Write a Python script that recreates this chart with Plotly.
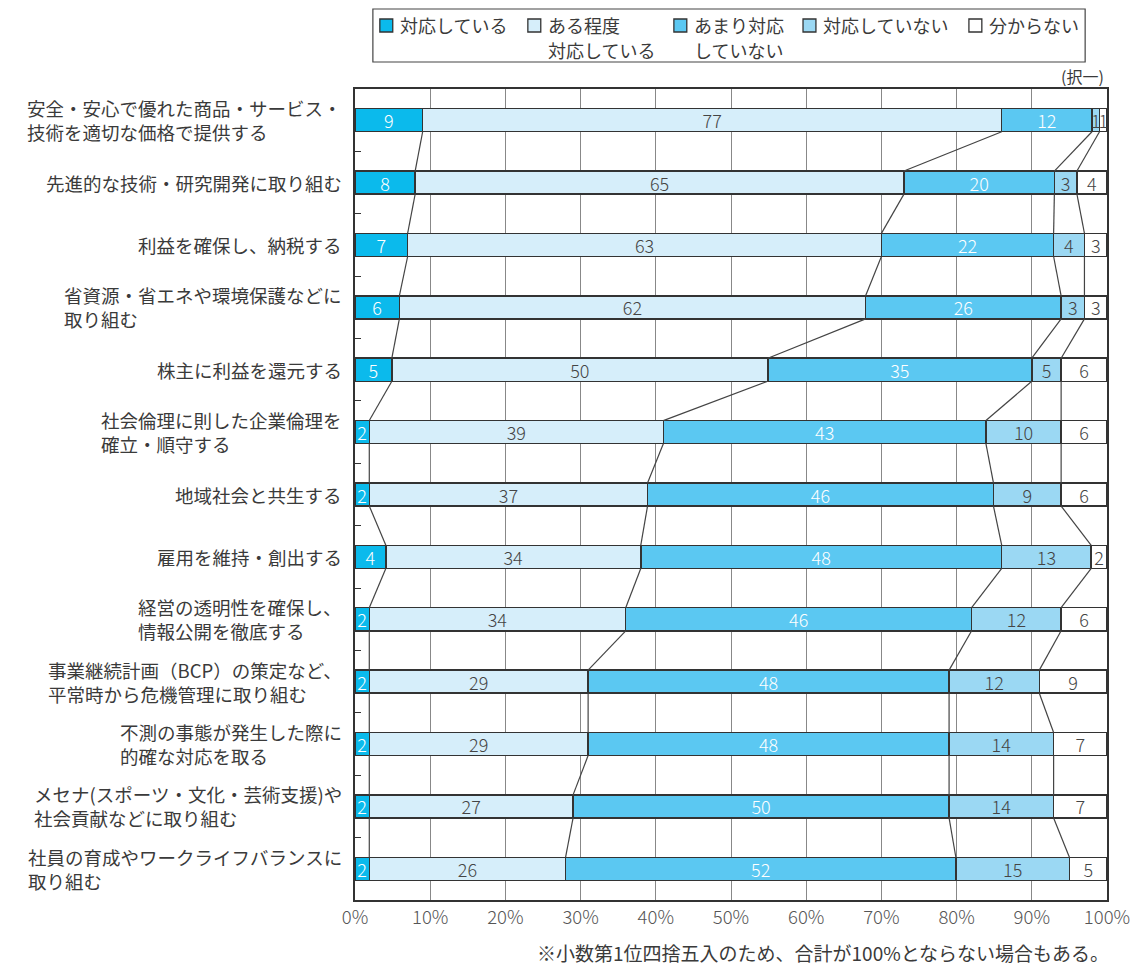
import plotly.graph_objects as go

categories = [
    "安全・安心で優れた商品・サービス・<br>技術を適切な価格で提供する",
    "先進的な技術・研究開発に取り組む",
    "利益を確保し、納税する",
    "省資源・省エネや環境保護などに<br>取り組む",
    "株主に利益を還元する",
    "社会倫理に則した企業倫理を<br>確立・順守する",
    "地域社会と共生する",
    "雇用を維持・創出する",
    "経営の透明性を確保し、<br>情報公開を徹底する",
    "事業継続計画（BCP）の策定など、<br>平常時から危機管理に取り組む",
    "不測の事態が発生した際に<br>的確な対応を取る",
    "メセナ(スポーツ・文化・芸術支援)や<br>社会貢献などに取り組む",
    "社員の育成やワークライフバランスに<br>取り組む",
]

series_names = ["対応している", "ある程度<br>対応している", "あまり対応<br>していない", "対応していない", "分からない"]

# bar lengths (percent)
v_taiou = [9, 8, 7, 5.9, 4.9, 1.9, 1.9, 4.1, 1.9, 1.9, 1.9, 1.9, 1.9]
v_aruteido = [77, 65, 63, 62, 50, 39.1, 37, 33.9, 34.1, 29.1, 29.1, 27.1, 26.1]
v_amari = [12, 20, 22.9, 26, 35.1, 42.9, 46, 48, 46, 48, 48, 50, 51.9]
v_shiteinai = [1, 3, 4.1, 3.1, 3.9, 10, 9, 11.9, 11.9, 12, 13.9, 13.9, 15.1]
v_wakaranai = [1, 4, 3, 3, 6.1, 6.1, 6.1, 2.1, 6.1, 9, 7.1, 7.1, 5]

# printed labels
l_taiou = [9, 8, 7, 6, 5, 2, 2, 4, 2, 2, 2, 2, 2]
l_aruteido = [77, 65, 63, 62, 50, 39, 37, 34, 34, 29, 29, 27, 26]
l_amari = [12, 20, 22, 26, 35, 43, 46, 48, 46, 48, 48, 50, 52]
l_shiteinai = [1, 3, 4, 3, 5, 10, 9, 13, 12, 12, 14, 14, 15]
l_wakaranai = [1, 4, 3, 3, 6, 6, 6, 2, 6, 9, 7, 7, 5]

x_ticks = [0, 10, 20, 30, 40, 50, 60, 70, 80, 90, 100]
x_ticktext = ["0%", "10%", "20%", "30%", "40%", "50%", "60%", "70%", "80%", "90%", "100%"]

values = [v_taiou, v_aruteido, v_amari, v_shiteinai, v_wakaranai]
labels = [l_taiou, l_aruteido, l_amari, l_shiteinai, l_wakaranai]
colors = ["#0BBAEC", "#D6EEFA", "#5BC8F2", "#9BD8F3", "#FFFFFF"]
text_colors = ["#FFFFFF", "#444444", "#FFFFFF", "#444444", "#444444"]

FONT = "Noto Sans CJK JP"
TXT = "#3A3A3A"
BAR_W = 0.37
n = len(categories)
ypos = list(range(n))

# plot-area pixel geometry (for placing the legend box and notes)
PL, PR, PT, PB = 355, 1112, 89, 900
W, H = 1142, 967


def px(x):
    return (x - PL) / (PR - PL)


def py(y):
    return (PB - y) / (PB - PT)


fig = go.Figure()
for k in range(5):
    fig.add_trace(go.Bar(
        y=ypos, x=values[k], orientation="h", name=series_names[k],
        width=BAR_W,
        marker=dict(color=colors[k], line=dict(color="#333333", width=1.5)),
        text=[str(t) for t in labels[k]],
        textposition="inside", insidetextanchor="middle", textangle=0,
        textfont=dict(color=text_colors[k], size=18, family=FONT, weight=300),
        hoverinfo="skip", showlegend=False,
    ))

# connector lines between cumulative boundaries
cum = []
for i in range(n):
    s = 0
    row = []
    for k in range(5):
        s += values[k][i]
        row.append(s)
    cum.append(row)

cx, cy = [], []
for k in range(4):
    for i in range(n - 1):
        cx += [cum[i][k], cum[i + 1][k], None]
        cy += [i + BAR_W / 2, i + 1 - BAR_W / 2, None]
fig.add_trace(go.Scatter(x=cx, y=cy, mode="lines", line=dict(color="#444444", width=1.2),
                         showlegend=False, hoverinfo="skip"))

# category labels
for i, c in enumerate(categories):
    fig.add_annotation(x=0, xref="paper", y=i, yref="y", text=c, showarrow=False,
                       xanchor="right", yanchor="middle", align="left", xshift=-11,
                       font=dict(family=FONT, size=18.5, color=TXT))

# legend (box, swatches, texts)
fig.add_shape(type="rect", xref="paper", yref="paper",
              x0=px(373), x1=px(1090), y0=py(62), y1=py(9),
              line=dict(color="#444444", width=1.2), fillcolor="rgba(0,0,0,0)")
leg_x = [380, 529, 676, 806, 973]
line_y = [25, 50]
for k in range(5):
    fig.add_shape(type="rect", xref="paper", yref="paper",
                  x0=px(leg_x[k]), x1=px(leg_x[k] + 13), y0=py(32), y1=py(19),
                  line=dict(color="#333333", width=1.3), fillcolor=colors[k])
    for j, part in enumerate(series_names[k].split("<br>")):
        fig.add_annotation(x=px(leg_x[k] + 18), xref="paper", y=py(line_y[j]), yref="paper",
                           text=part, showarrow=False, xanchor="left", yanchor="middle",
                           align="left", font=dict(family=FONT, size=18, color=TXT))

fig.add_annotation(x=px(1111), xref="paper", y=py(76), yref="paper", text="(択一)", showarrow=False,
                   xanchor="right", yanchor="middle", font=dict(family=FONT, size=16, color=TXT))
fig.add_annotation(x=px(1116), xref="paper", y=py(952), yref="paper",
                   text="※小数第1位四捨五入のため、合計が100%とならない場合もある。", showarrow=False,
                   xanchor="right", yanchor="middle", font=dict(family=FONT, size=19, color=TXT))

fig.update_layout(
    width=W, height=H,
    barmode="stack",
    plot_bgcolor="#FFFFFF", paper_bgcolor="#FFFFFF",
    margin=dict(l=PL, r=W - PR, t=PT, b=H - PB),
    font=dict(family=FONT, color=TXT),
    showlegend=False,
    uniformtext=dict(mode="show", minsize=18),
    xaxis=dict(range=[0, 100], tickvals=x_ticks, ticktext=x_ticktext,
               showgrid=True, gridcolor="#888888", gridwidth=1,
               showline=True, mirror=True, linecolor="#333333", linewidth=1.5,
               ticks="", zeroline=False,
               tickfont=dict(family=FONT, size=18.5, color="#555555", weight=300)),
    yaxis=dict(range=[n - 0.5, -0.5], tickvals=[i + 0.5 for i in range(n - 1)],
               showticklabels=False, ticks="inside", ticklen=6, tickcolor="#333333",
               showgrid=False, zeroline=False,
               showline=True, mirror=True, linecolor="#333333", linewidth=1.5),
)

fig.write_html("out.html")
